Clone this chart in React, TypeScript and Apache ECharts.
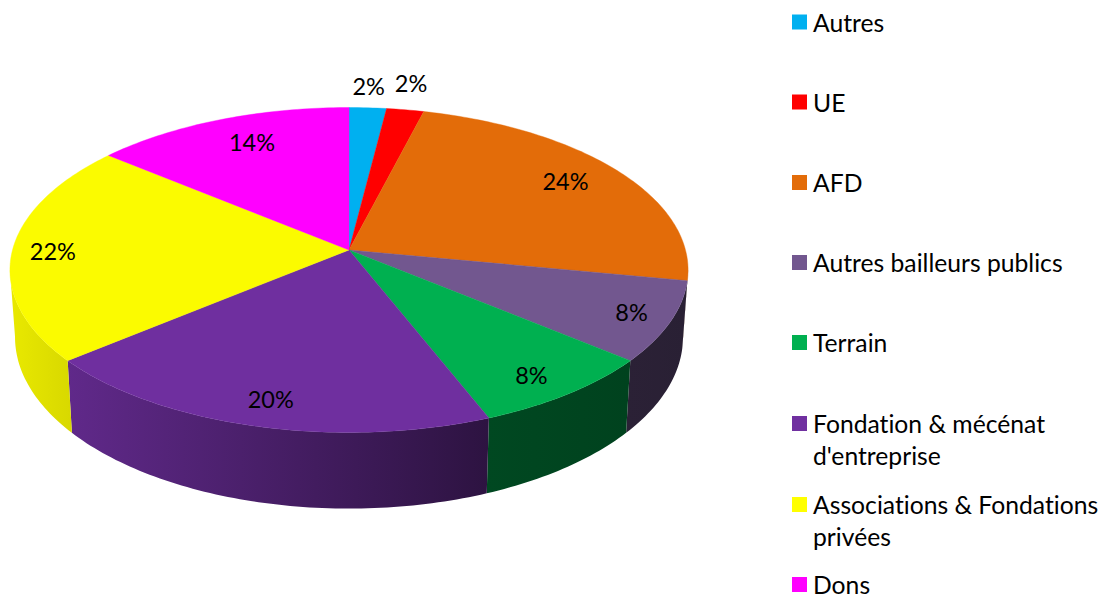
import React, { useEffect, useRef } from "react";
import * as echarts from "echarts";

const categories = [
  "Autres",
  "UE",
  "AFD",
  "Autres bailleurs publics",
  "Terrain",
  "Fondation & mécénat\nd'entreprise",
  "Associations & Fondations\nprivées",
  "Dons",
];
const shares = [2, 2, 24, 8, 8, 20, 22, 14];
const legendColors = ["#00B0F0", "#FF0000", "#E36C09", "#72578F", "#00B050", "#7030A0", "#FFFF00", "#FF00FF"];
const topColors = ["#00B0F0", "#FF0000", "#E36C09", "#72578F", "#00B050", "#6F2F9F", "#FBFB00", "#FF00FF"];
const labelRadii = [1.17, 1.2, 0.81, 0.885, 0.87, 0.87, 0.88, 0.79];
const labelNudgeX = [-2, -4, -2, 0, -6, 3, 0, 7];
const labelNudgeY = [-1, -2, -3, -1, 2, -1, 1, -3];
const legendCenters = [22, 102, 182.5, 262.5, 342.5, 423.5, 504.5, 584.5];

const CX = 349;
const CY = 250;
const RX = 336.5;
const RY = 160;
const K = 0.123;
const FONT = "Lato, Carlito, sans-serif";
// The wall faces the viewer only between the two silhouette tangents of the rim.
const WALL_FROM = (96.9 * Math.PI) / 180;
const WALL_TO = (263.1 * Math.PI) / 180;

function project(angle: number, r: number) {
  const u = r * Math.sin(angle);
  const v = -r * Math.cos(angle);
  const w = 1 - K * v;
  return { x: CX + (RX * u) / w, y: CY + (RY * v) / w, q: v / w };
}

function projectFloor(angle: number) {
  const p = project(angle, 1);
  return [CX + (p.x - CX) * 0.985, p.y + 66 + 8.9 * p.q];
}

function shadeAt(x: number) {
  const stops = [
    [0, 0.94],
    [72, 0.86],
    [487, 0.41],
    [700, 0.36],
  ];
  for (let i = 1; i < stops.length; i++) {
    if (x <= stops[i][0]) {
      const t = (x - stops[i - 1][0]) / (stops[i][0] - stops[i - 1][0]);
      return stops[i - 1][1] + t * (stops[i][1] - stops[i - 1][1]);
    }
  }
  return 0.36;
}

function shadeColor(hex: string, f: number) {
  const n = parseInt(hex.slice(1), 16);
  const c = (s: number) => Math.round(((n >> s) & 255) * f);
  return `rgb(${c(16)},${c(8)},${c(0)})`;
}

function arc(a0: number, a1: number, fn: (a: number) => number[]) {
  const steps = Math.max(2, Math.ceil(((a1 - a0) * 180) / Math.PI));
  const pts: number[][] = [];
  for (let i = 0; i <= steps; i++) pts.push(fn(a0 + ((a1 - a0) * i) / steps));
  return pts;
}

const topPoint = (a: number) => {
  const p = project(a, 1);
  return [p.x, p.y];
};

export default function App() {
  const ref = useRef<HTMLDivElement>(null);
  useEffect(() => {
    document.body.style.margin = "0";
    const chart = echarts.init(ref.current!, undefined, { renderer: "svg" });
    const total = shares.reduce((a, b) => a + b, 0);
    let cumulative = 0;
    const series = shares.map((value, i) => {
      const a0 = (cumulative / total) * Math.PI * 2;
      cumulative += value;
      const a1 = (cumulative / total) * Math.PI * 2;
      const mid = (a0 + a1) / 2;
      return {
        type: "custom",
        name: categories[i],
        coordinateSystem: "none",
        silent: true,
        itemStyle: { color: legendColors[i] },
        data: [[value]],
        renderItem: () => {
          const topRim = arc(a0, a1, topPoint);
          const w0 = Math.max(a0, WALL_FROM);
          const w1 = Math.min(a1, WALL_TO);
          const children: any[] = [];
          if (w1 > w0) {
            const wall = [...arc(w0, w1, topPoint), ...arc(w0, w1, projectFloor).reverse()];
            const xs = wall.map((p) => p[0]);
            children.push({
              type: "polygon",
              z2: 1,
              shape: { points: wall },
              style: {
                fill: {
                  type: "linear",
                  x: 0,
                  y: 0,
                  x2: 1,
                  y2: 0,
                  colorStops: [
                    { offset: 0, color: shadeColor(topColors[i], shadeAt(Math.min(...xs))) },
                    { offset: 1, color: shadeColor(topColors[i], shadeAt(Math.max(...xs))) },
                  ],
                },
              },
            });
          }
          const label = project(mid, labelRadii[i]);
          children.push(
            {
              type: "polygon",
              z2: 10,
              shape: { points: [[CX, CY], ...topRim] },
              style: { fill: topColors[i], stroke: topColors[i], lineWidth: 0.4 },
            },
            {
              type: "text",
              z2: 20,
              x: label.x + labelNudgeX[i],
              y: label.y + labelNudgeY[i],
              style: {
                text: `${value}%`,
                fill: "#000",
                font: `23.5px ${FONT}`,
                align: "center",
                verticalAlign: "middle",
              },
            }
          );
          return { type: "group", children };
        },
      };
    });
    const legend = categories.map((name, i) => {
      const multi = name.includes("\n");
      return {
        data: [name],
        orient: "vertical",
        left: 792,
        top: legendCenters[i] - (multi ? 48 : 16),
        padding: 0,
        itemWidth: 15,
        itemHeight: 15,
        itemGap: 0,
        icon: "rect",
        selectedMode: false,
        textStyle: { fontFamily: FONT, fontSize: 24.7, lineHeight: 32, color: "#000", padding: [0, 0, 0, 1] },
        formatter: (n: string) => (n.includes("\n") ? "\n" + n : n),
      };
    });
    chart.setOption({ animation: false, backgroundColor: "#fff", legend, series });
    return () => chart.dispose();
  }, []);
  return <div ref={ref} style={{ width: 1108, height: 599, fontVariantLigatures: "none" }} />;
}
